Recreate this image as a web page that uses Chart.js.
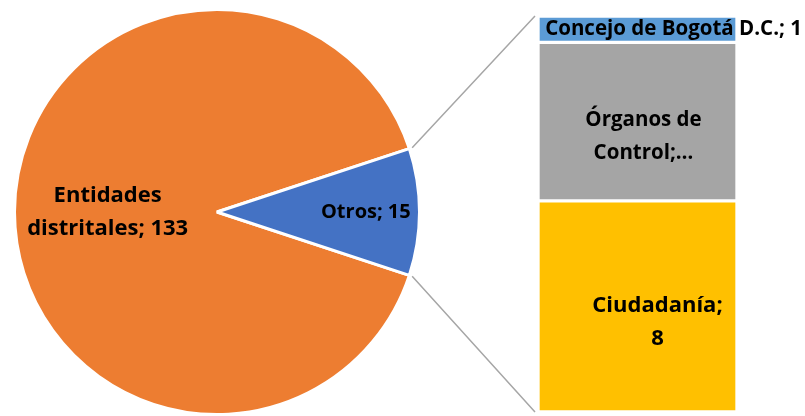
<!DOCTYPE html>
<html>
<head>
<meta charset="utf-8">
<script src="https://cdn.jsdelivr.net/npm/chart.js@4"></script>
<style>
  body { margin: 0; background: #fff; }
  #wrap { position: relative; width: 805px; height: 416px; }
  #wrap canvas { position: absolute; left: 0; top: 0; }
</style>
</head>
<body>
<div id="wrap">
  <canvas id="pie" width="440" height="416"></canvas>
  <canvas id="bar" width="805" height="416"></canvas>
</div>
<script>
// pie: main split
const pieNames = ['Entidades distritales', 'Otros'];
const pieValues = [133, 15];
const pieColors = ['#ED7D31', '#4472C4'];

// bar: breakdown of "Otros" (bottom to top)
const barNames = ['Ciudadanía', 'Órganos de Control', 'Concejo de Bogotá D.C.'];
const barValues = [8, 6, 1];
const barColors = ['#FFC000', '#A5A5A5', '#5B9BD5'];

const font = size => 'bold ' + size + 'px "Open Sans", sans-serif';

// label text as shown in the picture (Excel wrapped / truncated it)
const pieLines = [
    ['Entidades', 'distritales; ' + pieValues[0]],
    ['Otros; ' + pieValues[1]]
];
const barLines = [
    ['Ciudadanía;', String(barValues[0])],
    ['Órganos de', 'Control;…'],
    ['Concejo de Bogotá D.C.; ' + barValues[2]]
];

// the "Otros" slice must point to the right (centered at 0 deg)
const otrosSpan = pieValues[1] / (pieValues[0] + pieValues[1]) * 360;
const rotation = 90 - otrosSpan / 2 + 360 - 360 * pieValues[0] / (pieValues[0] + pieValues[1]) + 360;

function drawLines(ctx, lines, x, y, lh) {
    const top = y - (lines.length - 1) * lh / 2;
    lines.forEach((t, i) => ctx.fillText(t, x, top + i * lh));
}

const pieLabelPlugin = {
    id: 'pieLabels',
    afterDraw(chart) {
        const ctx = chart.ctx;
        const arcs = chart.getDatasetMeta(0).data;
        const factors = [0.54, 0.735];
        const sizes = [22, 20];
        ctx.save();
        ctx.fillStyle = '#000';
        ctx.textAlign = 'center';
        ctx.textBaseline = 'middle';
        arcs.forEach((arc, i) => {
            const mid = (arc.startAngle + arc.endAngle) / 2;
            const x = arc.x + Math.cos(mid) * arc.outerRadius * factors[i];
            const y = arc.y + Math.sin(mid) * arc.outerRadius * factors[i];
            ctx.font = font(sizes[i]);
            drawLines(ctx, pieLines[i], x, y, 33);
        });
        ctx.restore();
    }
};

const pieChart = new Chart(document.getElementById('pie'), {
    type: 'pie',
    data: {
        labels: pieNames,
        datasets: [{
            data: pieValues,
            backgroundColor: pieColors,
            borderColor: '#fff',
            borderWidth: 3
        }]
    },
    options: {
        responsive: false,
        animation: false,
        rotation: rotation,
        layout: { padding: { left: 12, right: 18, top: 8, bottom: 0 } },
        plugins: { legend: { display: false }, tooltip: { enabled: false } }
    },
    plugins: [pieLabelPlugin]
});

const barExtras = {
    id: 'barExtras',
    afterDraw(chart) {
        const ctx = chart.ctx;
        const bars = barValues.map((_, i) => chart.getDatasetMeta(i).data[0]);
        const top = bars[bars.length - 1];
        const bottom = bars[0];
        const left = top.x - top.width / 2;

        // connector lines from the "Otros" slice to the bar
        const otros = pieChart.getDatasetMeta(0).data[1];
        const r = otros.outerRadius + 3;
        ctx.save();
        ctx.strokeStyle = '#A6A6A6';
        ctx.lineWidth = 1.5;
        ctx.beginPath();
        ctx.moveTo(otros.x + Math.cos(otros.startAngle) * r, otros.y + Math.sin(otros.startAngle) * r);
        ctx.lineTo(left - 3, top.y);
        ctx.moveTo(otros.x + Math.cos(otros.endAngle) * r, otros.y + Math.sin(otros.endAngle) * r);
        ctx.lineTo(left - 3, bottom.base);
        ctx.stroke();

        // labels
        ctx.fillStyle = '#000';
        ctx.textAlign = 'center';
        ctx.textBaseline = 'middle';
        const dx = [20, 6, 36];
        const dy = [16, 15, 0];
        const sizes = [22, 20.5, 20.5];
        bars.forEach((b, i) => {
            ctx.font = font(sizes[i]);
            drawLines(ctx, barLines[i], b.x + dx[i], (b.y + b.base) / 2 + dy[i], 33);
        });
        ctx.restore();
    }
};

new Chart(document.getElementById('bar'), {
    type: 'bar',
    data: {
        labels: [''],
        datasets: barValues.map((v, i) => ({
            label: barNames[i],
            data: [v],
            backgroundColor: barColors[i],
            borderColor: '#fff',
            borderWidth: 2,
            borderSkipped: false,
            barPercentage: 1,
            categoryPercentage: 1
        }))
    },
    options: {
        responsive: false,
        animation: false,
        layout: { padding: { left: 538, right: 68, top: 16, bottom: 4 } },
        scales: {
            x: { display: false, stacked: true },
            y: { display: false, stacked: true, min: 0, max: 15 }
        },
        plugins: { legend: { display: false }, tooltip: { enabled: false } }
    },
    plugins: [barExtras]
});
</script>
</body>
</html>
